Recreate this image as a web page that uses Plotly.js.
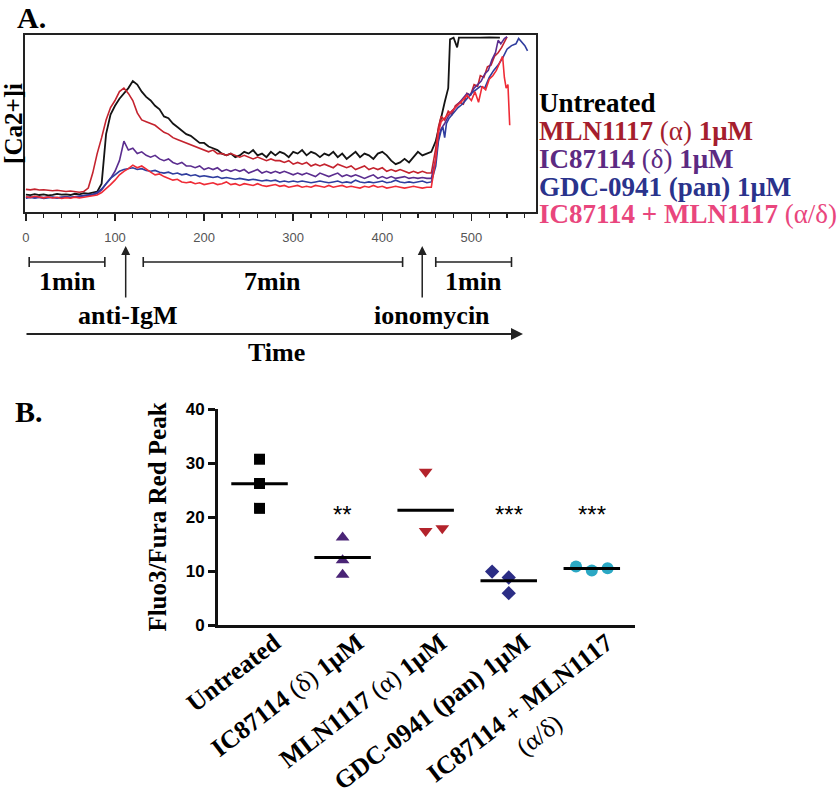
<!DOCTYPE html>
<html><head><meta charset="utf-8">
<script src="https://cdn.plot.ly/plotly-3.0.1.min.js"></script>
<style>html,body{margin:0;padding:0;background:#fff}#chart{width:840px;height:803px}</style>
</head><body><div id="chart"></div>
<script>
// ---------- Panel A: calcium flux traces (time in s, arbitrary [Ca2+]i units) ----------
const time = [0,5,10,15,20,25,30,35,40,45,50,55,60,65,70,75,80,85,90,95,100,105,110,115,120,125,130,135,140,145,150,155,160,165,170,175,180,185,190,195,200,205,210,215,220,225,230,235,240,245,250,255,260,265,270,275,280,285,290,295,300,305,310,315,320,325,330,335,340,345,350,355,360,365,370,375,380,385,390,395,400,405,410,415,420,425,430,435,440,445,450,455];

const untreatedBase = [9.8,9.5,10.1,9.6,9.9,9.4,9.7,10.2,9.8,10.0,
 9.6,10.3,10.0,10.6,10.4,11.0,11.5,16,44,55,
 60,64,67,70,74,72,68,65,63,60,
 58,54,53,50,48,46,44,43,41,39,
 39,37,36,35,33,32,33,31,32,34,
 33,35,32,33,31,34,32,34,33,31,
 34,33,35,32,34,33,31,33,32,34,
 31,33,30,32,34,31,33,32,30,33,
 34,32,29,27,28,30,28,31,34,32,
 33,34];
const untreatedTailT = [460,465,470,473,474,476,480,484,486,490,500,510,520,532];
const untreatedTailV = [40,52,62,68,70,97.5,98.5,93,98.5,98.5,98.7,98.5,98.6,98.5];

const mlnBase = [12.8,12.5,12.9,12.4,12.6,12.2,12.0,12.3,11.8,11.6,
 11.9,11.4,11.2,11.6,13.5,22,33,42,52,59,
 63,68,70,67,63,56,52,51,50,49,
 47,45,44,42,41,40,39,38,37,36,
 35,34,35,33,33,32,33,32,31,32,
 31,30,31,30,29,30,29,29,28,29,
 27,28,27,28,26,27,26,27,26,25,
 27,26,25,26,24,25,26,24,25,24,
 25,23,24,23,24,23,22,23,22,23,
 22,22];
const mlnTailT = [460,463,466,470,474,478,482,487,491,495,499,503,507,510,514,518,522,526,530,534,538,540];
const mlnTailV = [36,48,54,52,57,55,60,62,61,67,66,72,71,77,76,82,83,88,90,93,97,99];

const icBase = [8.2,8.6,8.0,8.4,8.1,8.5,8.2,7.9,8.3,8.6,
 8.2,8.5,8.8,9.0,9.3,9.6,10.5,12.5,16,19,
 23,29,40,35,36,33,34,32,31,32,
 30,29,30,28,27,28,26,26,25,26,
 24,25,24,25,23,24,23,24,23,24,
 22,23,24,22,23,22,23,22,23,22,
 21,22,21,22,21,20,22,21,20,21,
 22,20,21,20,21,20,19,20,21,19,
 20,19,20,19,19.5,20,19,19.5,19,19.5,
 19,19];
const icTailT = [460,463,466,470,474,478,482,487,491,495,499,503,507,511,515,519,523,527,530,533,537,540];
const icTailV = [30,42,47,50,54,57,59,62,64,67,66,70,72,74,78,80,86,90,97,95,98,99];

const gdcBase = [7.8,8.2,7.9,8.3,7.7,8.1,8.4,8.0,8.2,8.6,
 8.3,8.7,8.9,9.2,9.5,10,11,13,16,19,
 21,23,24,24.5,25,24,24.5,23.5,23,23.5,
 22.5,22,22.5,21.5,22,21,21.5,20.5,21,20,
 20.5,20,19.5,20,19,19.5,19,18.5,19,18.5,
 18,18.5,18,17.5,18,17.5,18,17,17.5,17,
 17.5,17,17.5,17,16.5,17,17.5,17,16.5,17,
 17.5,16.5,17,16.5,18,17,16.5,17,16.5,17,
 17.5,16.5,17,18,17,16.5,17,16.5,17,17.5,
 16.5,17];
const gdcTailT = [460,463,466,468,470,472,475,480,485,490,495,500,505,510,515,520,525,530,535,540,545,550,553,557,560,563];
const gdcTailV = [26,40,46,48,42,50,53,56,59,61,64,67,69,71,70,76,80,83,87,92,94,95,98,96,94,91];

const comboBase = [8.6,8.2,8.9,8.4,8.0,8.5,7.9,8.3,7.6,8.1,
 7.8,8.4,8.0,8.3,8.6,9.0,9.6,11,13,15.5,
 18,21,23,24.5,26.5,25,26,24,22.5,21,
 21.5,20,19,18,18.5,17,16.5,17,16,16.5,
 15.5,16,16.5,15.5,16,17,15.5,16,15,16,
 15.5,15,16,15,14.5,15,15.5,14.5,15,14,
 14.5,15,14,14.5,14,15,14.5,14,15,14,
 14.5,15,14,14.5,14,13.5,14.5,14,15,14,
 14.5,13.5,14,14.5,14,13.5,14,14.5,14,13.5,
 14,14];
const comboTailT = [460,463,466,470,475,480,485,490,495,500,504,508,512,516,520,524,528,532,535,537,539,541,543];
const comboTailV = [30,45,51,53,55,58,60,63,66,63,68,62,71,69,75,77,80,85,88,76,70,72,49];

const seriesNames = ['Untreated','MLN1117 (α) 1μM','IC87114 (δ) 1μM','GDC-0941 (pan) 1μM','IC87114 + MLN1117 (α/δ)'];
const aTickStep = 100;

// ---------- Panel B: peak values ----------
const categories = ['Untreated','IC87114 (δ) 1μM','MLN1117 (α) 1μM','GDC-0941 (pan) 1μM','IC87114 + MLN1117 (α/δ)'];
const untreatedPeak = [30.7, 26.2, 21.6];
const icPeak = [16.2, 12.0, 9.3];
const mlnPeak = [28.4, 17.4, 17.9];
const gdcPeak = [9.9, 8.8, 5.9];
const comboPeak = [10.85, 10.1, 10.5];
const significance = ['', '**', '', '***', '***'];
const bTicks = [0, 10, 20, 30, 40];

// ---------- helpers / styles ----------
const W = 840, H = 803;
const P = px => px / W;
const Q = py => 1 - py / H;
const SERIF = 'Liberation Serif, "Times New Roman", serif';
const SANS = 'Liberation Sans, Arial, sans-serif';

const lineStyles = [
  {color:'#141414', width:1.8},
  {color:'#c4232e', width:1.6},
  {color:'#5b2d8f', width:1.6},
  {color:'#2f3d9e', width:1.6},
  {color:'#ef2b36', width:1.6}
];
const legendColors = ['#000000','#a51e2e','#5c2a82','#2a338c','#e9467d'];
const legendTexts = [
  '<b>Untreated</b>',
  '<b>MLN1117 </b>(α)<b> 1μM</b>',
  '<b>IC87114 </b>(δ)<b> 1μM</b>',
  '<b>GDC-0941 (pan) 1μM</b>',
  '<b>IC87114 + MLN1117 </b>(α/δ)'
];
const legendY = [103, 131, 159, 187, 214];

const aData = [
  [untreatedBase, untreatedTailT, untreatedTailV],
  [mlnBase, mlnTailT, mlnTailV],
  [icBase, icTailT, icTailV],
  [gdcBase, gdcTailT, gdcTailV],
  [comboBase, comboTailT, comboTailV]
];

const traces = [];
aData.forEach((d, i) => {
  traces.push({
    type:'scatter', mode:'lines', name: seriesNames[i],
    x: time.concat(d[1]), y: d[0].concat(d[2]),
    xaxis:'x', yaxis:'y',
    line:{color: lineStyles[i].color, width: lineStyles[i].width},
    hoverinfo:'skip'
  });
});

const bGroups = [untreatedPeak, icPeak, mlnPeak, gdcPeak, comboPeak];
const bMarkers = [
  {symbol:'square', color:'#000000', size:11},
  {symbol:'triangle-up', color:'#4a2476', size:12},
  {symbol:'triangle-down', color:'#b3232b', size:12},
  {symbol:'diamond', color:'#2b2d85', size:11},
  {symbol:'circle', color:'#2ba8c4', size:12}
];
const jitter = [[0,0,0],[0,0,0],[0,0,0.2],[-0.2,0,0],[-0.19,0,0.19]];
const halfMean = 0.34;

bGroups.forEach((vals, i) => {
  traces.push({
    type:'scatter', mode:'markers', name: categories[i],
    x: vals.map((v, k) => i + jitter[i][k]), y: vals,
    xaxis:'x2', yaxis:'y2', cliponaxis:false,
    marker:{symbol:bMarkers[i].symbol, color:bMarkers[i].color, size:bMarkers[i].size, line:{width:0}},
    hoverinfo:'skip'
  });
  const m = vals.reduce((a, b) => a + b, 0) / vals.length;
  traces.push({
    type:'scatter', mode:'lines', x:[i - halfMean, i + halfMean], y:[m, m],
    xaxis:'x2', yaxis:'y2', line:{color:'#000', width:3}, hoverinfo:'skip', showlegend:false
  });
});

// x tick labels for panel B (second line of last one centred with padding)
const pad = '\u00a0'.repeat(14);
const bTickText = [
  '<b>Untreated</b>',
  '<b>IC87114 </b>(δ)<b> 1μM</b>',
  '<b>MLN1117 </b>(α)<b> 1μM</b>',
  '<b>GDC-0941 (pan) 1μM</b>',
  '<b>IC87114 + MLN1117</b><br>(α/δ)' + pad
];

// ---------- annotations & shapes ----------
const annotations = [];
const shapes = [];
const txt = (x, y, text, opts) => Object.assign({x, y, text, showarrow:false,
  xref:'paper', yref:'paper', xanchor:'center', yanchor:'middle',
  font:{family:SERIF, size:26, color:'#000'}}, opts || {});

annotations.push(txt(P(15), Q(18), '<b>A.</b>', {xanchor:'left', font:{family:SERIF, size:30, color:'#000'}}));
annotations.push(txt(P(13), Q(411), '<b>B.</b>', {xanchor:'left', font:{family:SERIF, size:30, color:'#000'}}));

legendTexts.forEach((t, i) => {
  annotations.push(txt(P(537), Q(legendY[i]), t, {xanchor:'left', font:{family:SERIF, size:27, color:legendColors[i]}}));
});

// timeline brackets under panel A (in time units of the x axis)
const brackets = [[3.7, 88.6], [131.7, 422.8], [460, 545]];
const bracketLabels = ['<b>1min</b>', '<b>7min</b>', '<b>1min</b>'];
brackets.forEach((b, i) => {
  const base = {type:'line', xref:'x', yref:'paper', line:{color:'#222', width:1.6}};
  shapes.push(Object.assign({}, base, {x0:b[0], x1:b[1], y0:Q(262), y1:Q(262)}));
  shapes.push(Object.assign({}, base, {x0:b[0], x1:b[0], y0:Q(257), y1:Q(267)}));
  shapes.push(Object.assign({}, base, {x0:b[1], x1:b[1], y0:Q(257), y1:Q(267)}));
  annotations.push(txt((b[0] + b[1]) / 2, Q(281), bracketLabels[i], {xref:'x'}));
});

const stimuli = [[112, '<b>anti-IgM</b>', 114.8], [444.8, '<b>ionomycin</b>', 455.3]];
stimuli.forEach(s => {
  annotations.push({xref:'x', yref:'paper', x:s[0], y:Q(246), ax:0, ay:53, text:'',
    showarrow:true, arrowhead:2, arrowsize:1.2, arrowwidth:1.5, arrowcolor:'#222'});
  annotations.push(txt(s[2], Q(315), s[1], {xref:'x'}));
});

annotations.push({xref:'paper', yref:'paper', x:P(523), y:Q(334), ax:-498, ay:0, text:'',
  showarrow:true, arrowhead:2, arrowsize:1.2, arrowwidth:2, arrowcolor:'#222'});
annotations.push(txt(P(276), Q(352), '<b>Time</b>'));

significance.forEach((s, i) => {
  if (!s) return;
  annotations.push({xref:'x2', yref:'y2', x:i, y:20.5, text:s, showarrow:false,
    xanchor:'center', yanchor:'middle', font:{family:SANS, size:24, color:'#000'}});
});

const layout = {
  width:W, height:H, margin:{l:0, r:0, t:0, b:0},
  paper_bgcolor:'#fff', plot_bgcolor:'rgba(0,0,0,0)', showlegend:false,
  xaxis:{domain:[P(25), P(536)], range:[-1, 572.5], anchor:'y',
    showline:true, mirror:true, linecolor:'#222', linewidth:1.6,
    tickmode:'linear', tick0:0, dtick:aTickStep, ticks:'outside', ticklen:7, tickwidth:1.5, tickcolor:'#222',
    tickfont:{family:SANS, size:13, color:'#555'}, ticklabelstandoff:6,
    minor:{tick0:0, dtick:20, ticks:'outside', ticklen:4, tickwidth:1.2, tickcolor:'#222'},
    showgrid:false, zeroline:false, fixedrange:true},
  yaxis:{domain:[Q(212), Q(35)], range:[0, 100], anchor:'x',
    showline:true, mirror:true, linecolor:'#222', linewidth:1.6,
    ticks:'', showticklabels:false, showgrid:false, zeroline:false, fixedrange:true,
    title:{text:'<b>[Ca2+]i</b>', font:{family:SERIF, size:25, color:'#000'}, standoff:2}},
  xaxis2:{domain:[P(218), P(635)], range:[-0.5, 4.52], anchor:'y2',
    showline:true, linecolor:'#111', linewidth:3, ticks:'',
    tickmode:'array', tickvals:[0,1,2,3,4], ticktext:bTickText, tickangle:-37.5,
    tickfont:{family:SERIF, size:25.5, color:'#000'}, ticklabelstandoff:-10, ticklabelshift:15,
    showgrid:false, zeroline:false, fixedrange:true},
  yaxis2:{domain:[Q(625), Q(409)], range:[0, 40], anchor:'x2',
    showline:true, linecolor:'#111', linewidth:3,
    tickmode:'array', tickvals:bTicks, ticks:'outside', ticklen:7, tickwidth:3, tickcolor:'#111',
    tickfont:{family:SANS, size:17, color:'#000', weight:'bold'},
    showgrid:false, zeroline:false, fixedrange:true,
    title:{text:'<b>Fluo3/Fura Red Peak</b>', font:{family:SERIF, size:25, color:'#000'}, standoff:12}},
  annotations, shapes
};

Plotly.newPlot('chart', traces, layout, {displayModeBar:false, staticPlot:true});
</script>
</body></html>
